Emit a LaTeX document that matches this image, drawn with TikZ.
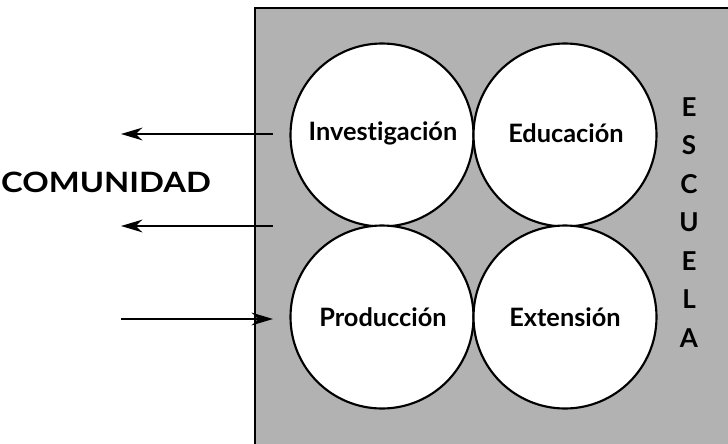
\documentclass[tikz,border=0pt]{standalone}
\usepackage{fontspec}
\setmainfont[Ligatures=NoCommon]{Lato}
\newfontfamily\widefont[FakeStretch=1.17]{Lato}
\usetikzlibrary{arrows.meta}
\begin{document}
\begin{tikzpicture}[x=0.75pt,y=-0.75pt,
  circ/.style={circle,draw=black,line width=1.6pt,fill=white,minimum size=183*0.75pt,inner sep=0pt},
  lbl/.style={font=\fontsize{19}{22}\selectfont\bfseries},
  big/.style={font=\widefont\fontsize{21}{24}\selectfont\bfseries},
  flow/.style={line width=1.6pt,-{Stealth[length=16pt,width=9.5pt,inset=5pt]}},
  letter/.style={font=\fontsize{19.5}{22}\selectfont\bfseries}]
\useasboundingbox (0,0) rectangle (728,443);
\fill[gray!60] (255,8) rectangle (740,460);
\draw[line width=1.6pt] (255,460) -- (255,8) -- (740,8);
\node[circ] (inv) at (382,135) {};
\node[circ] (edu) at (565,135) {};
\node[circ] (pro) at (382,317) {};
\node[circ] (ext) at (565,317) {};
\node[lbl] at (383,133) {Investigación};
\node[lbl] at (566,133) {Educación};
\node[lbl] at (383,317) {Producción};
\node[lbl] at (565,317) {Extensión};
\node[big] (com) at (106,182) {COMUNIDAD};
\foreach \l [count=\i from 0] in {E,S,C,U,E,L,A}
  \node[letter] (esc\i) at (689,107+38.5*\i) {\l};
\coordinate (a1s) at (273,134);
\coordinate (a1e) at (121,134);
\coordinate (a2s) at (273,226);
\coordinate (a2e) at (121,226);
\coordinate (a3s) at (121,319);
\coordinate (a3e) at (273,319);
\draw[flow] (a1s) -- (a1e);
\draw[flow] (a2s) -- (a2e);
\draw[flow] (a3s) -- (a3e);
\end{tikzpicture}
\end{document}
